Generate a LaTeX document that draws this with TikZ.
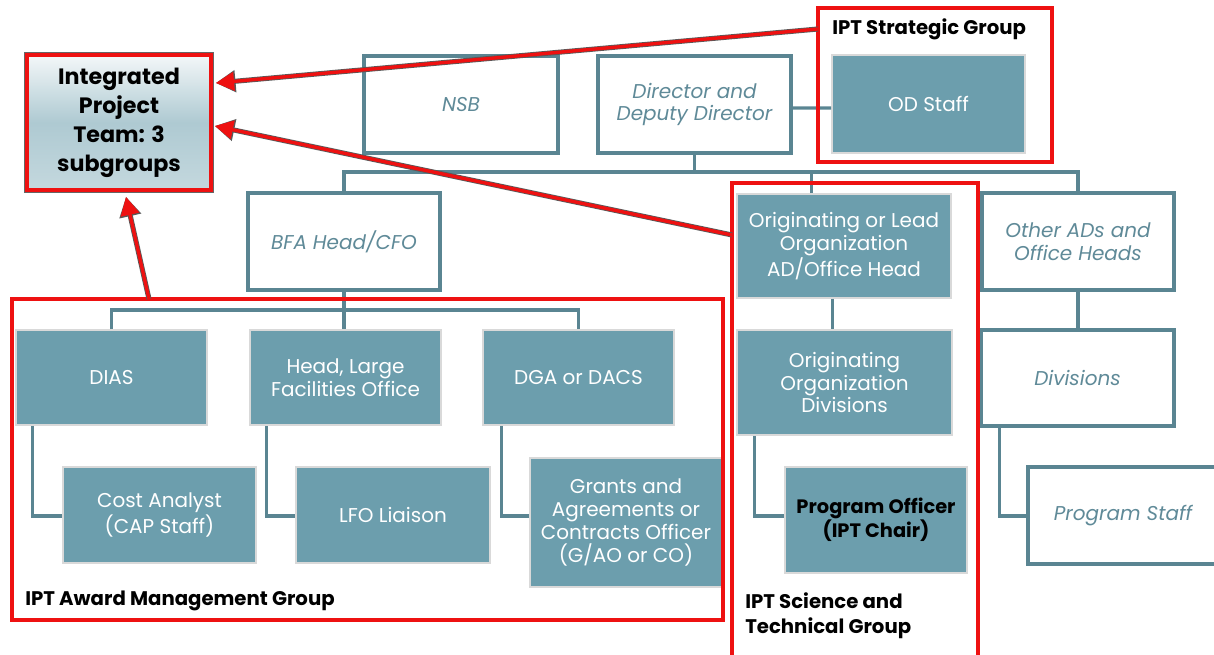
\documentclass[tikz,border=0pt]{standalone}
\usepackage{fontspec}
\setmainfont{Poppins}
\usetikzlibrary{arrows.meta,calc}
\definecolor{tealfill}{HTML}{6C9EAD}
\definecolor{tealline}{HTML}{5A8592}
\definecolor{tealtext}{HTML}{5F8A98}
\definecolor{redb}{HTML}{EE1111}
\newcommand\fsmain{\fontsize{14.2}{16.3}\selectfont}
\newcommand\fspo{\fontsize{13.8}{16.3}\selectfont}
\newcommand\fslbl{\fontsize{14}{17.7}\selectfont}
\newcommand\fsipt{\fontsize{15.8}{20.6}\selectfont}
\newcommand\mybox[7]{\node[#6, minimum width={(#4-#2)*0.025cm}, minimum height={(#5-#3)*0.025cm}] (#1) at ({(#2+#4)/2},{(#3+#5)/2}) {#7};}
\begin{document}
\begin{tikzpicture}[x=0.025cm,y=-0.025cm,
  obox/.style={draw=tealline, line width=2.2pt, fill=white, text=tealtext, font=\itshape\fsmain, align=center, inner sep=0},
  fbox/.style={draw=black!15, line width=1.2pt, fill=tealfill, text=white, font=\fsmain, align=center, inner sep=0},
  conn/.style={draw=tealline, line width=2.2pt},
  grp/.style={draw=redb, line width=2.2pt},
  lbl/.style={font=\bfseries\fslbl, text=black, anchor=base west, inner sep=0, align=left},
  rarrow/.style={draw=redb, line width=2.4pt, -{Triangle[length=13pt,width=13pt]},
     preaction={draw=black!65, line width=3.6pt, -{Triangle[length=14pt,width=15pt]}}}]
\useasboundingbox (0,0) rectangle (1214,655);
\clip (0,0) rectangle (1214,655);

% top row
\mybox{nsb}{364}{56}{558}{153}{obox}{NSB}
\mybox{dir}{598}{56}{791}{153}{obox}{Director and\\Deputy Director}
\mybox{od}{832}{55}{1025}{153}{fbox}{OD Staff}
% second row
\mybox{bfa}{248}{193}{440}{290}{obox}{BFA Head/CFO}
\mybox{orl}{737}{194}{951}{298}{fbox}{Originating or Lead\\Organization\\AD/Office Head}
\mybox{oth}{982}{193}{1174}{290}{obox}{Other ADs and\\Office Heads}
% third row
\mybox{dias}{16}{330}{207}{425}{fbox}{DIAS}
\mybox{hlfo}{250}{330}{441}{425}{fbox}{Head, Large\\Facilities Office}
\mybox{dga}{483}{330}{674}{425}{fbox}{DGA or DACS}
\mybox{ood}{737}{330}{952}{435}{fbox}{Originating\\Organization\\Divisions}
\mybox{divs}{981}{330}{1174}{426}{obox}{Divisions}
% fourth row
\mybox{cost}{63}{467}{256}{563}{fbox}{Cost Analyst\\(CAP Staff)}
\mybox{lfol}{296}{467}{490}{563}{fbox}{LFO Liaison}
\mybox{grants}{530}{458}{722}{587}{fbox}{Grants and\\Agreements or\\Contracts Officer\\(G/AO or CO)}
\mybox{po}{785}{467}{967}{573}{fbox, text=black, font=\bfseries\fspo}{Program Officer\\(IPT Chair)}
\mybox{ps}{1028}{467}{1218}{564}{obox}{Program Staff}

% connectors
\coordinate (barA) at (0,172);
\coordinate (barB) at (0,310);
\draw[conn] (dir.south) -- (dir.south |- barA);
\draw[conn] (bfa.north) |- (oth.north |- barA) -- (oth.north);
\draw[conn] ($(orl.north west)+(75,0)$) -- ($(orl.north west)+(75,-22)$);
\draw[conn] ($(dir.east)+(0,3.5)$) -- ($(od.west)+(0,4)$);
\draw[conn] (bfa.south) -- (bfa.south |- barB);
\draw[conn] (dias.north) |- (dga.north |- barB) -- (dga.north);
\draw[conn] (bfa.south |- barB) -- (hlfo.north -| bfa.south);
\draw[conn] ($(orl.south west)+(96,0)$) -- ($(ood.north west)+(96,0)$);
\draw[conn] (oth.south) -- (divs.north -| oth.south);
\draw[conn] ($(dias.south west)+(17,0)$) |- ($(cost.west)+(0,1)$);
\draw[conn] ($(hlfo.south west)+(17,0)$) |- ($(lfol.west)+(0,1)$);
\draw[conn] ($(dga.south west)+(19,0)$) |- ($(grants.west)+(0,-6.5)$);
\draw[conn] ($(ood.south west)+(18,0)$) |- ($(po.west)+(0,-4)$);
\draw[conn] ($(divs.south west)+(20,0)$) |- ($(ps.west)+(0,0.5)$);

% IPT box
\node[minimum width={184*0.025cm}, minimum height={135*0.025cm}, inner sep=0,
  top color=white!92!tealfill, bottom color=white!60!tealfill, middle color=white!45!tealfill,
  draw=redb, line width=2.6pt, preaction={draw=black!60, line width=3.8pt},
  font=\bfseries\fsipt, align=center, text=black] (ipt) at (119,122.5)
  {Integrated\\Project\\Team: 3\\subgroups};

% red group boxes
\draw[grp] (818,8) rectangle (1052,162);
\node[lbl] (lstrat) at (832,35) {IPT Strategic Group};
\draw[grp] (12,299) rectangle (723,620);
\node[lbl] (laward) at (25,605) {IPT Award Management Group};
\draw[grp] (732,183) rectangle (978,670);
\node[lbl] (lsci) at (745,633) {IPT Science and\\Technical Group};

% red arrows
\coordinate (s1) at (818,29);
\coordinate (s2) at (732,235);
\coordinate (s3) at (149,299);
\draw[rarrow] (s1) -- ($(ipt.east)+(3,-39.5)$);
\draw[rarrow] (s2) -- ($(ipt.east)+(2,3.5)$);
\draw[rarrow] (s3) -- ($(ipt.south)+(7,5)$);
\end{tikzpicture}
\end{document}
